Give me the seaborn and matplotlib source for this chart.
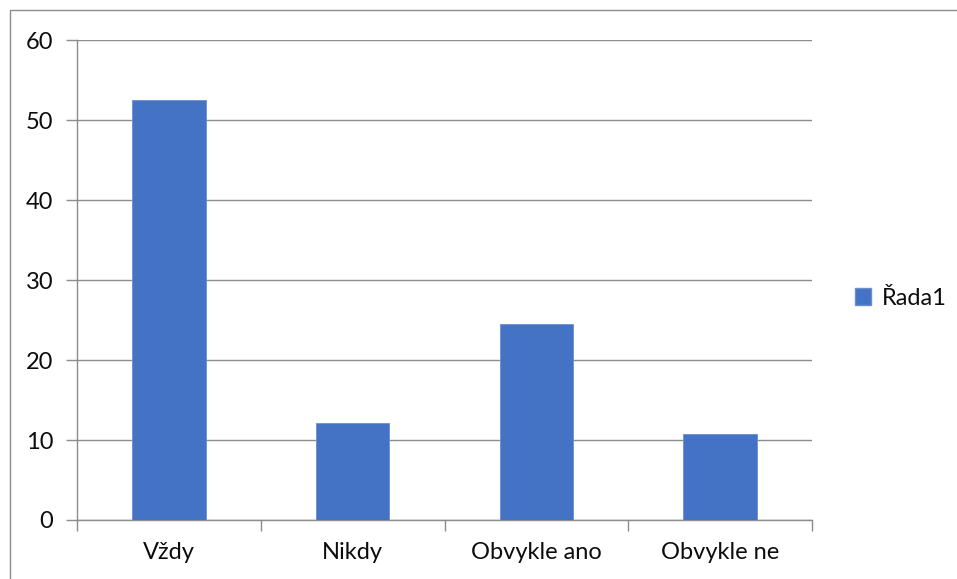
import pandas as pd
import seaborn as sns
import matplotlib.pyplot as plt
from matplotlib.patches import Rectangle, Patch

# data
categories = ["Vždy", "Nikdy", "Obvykle ano", "Obvykle ne"]
values = [52.5, 12.1, 24.5, 10.8]
series_name = "Řada1"
y_ticks = [0, 10, 20, 30, 40, 50, 60]

df = pd.DataFrame({"kat": categories, "hodnota": values})

sns.set_theme(style="white")
plt.rcParams['font.family'] = ['Lato', 'DejaVu Sans']

fig = plt.figure(figsize=(9.57, 5.79), dpi=100)
ax = fig.add_axes([0.0805, 0.1019, 0.768, 0.829])

bar_color = "#4472C4"
sns.barplot(data=df, x="kat", y="hodnota", color=bar_color, width=0.4,
            saturation=1, edgecolor="#6d8fd0", linewidth=0.6, ax=ax, zorder=3)

grid_c = "#8c8c8c"
txt_c = "#0d0d0d"
ax.set_ylim(0, 60)
ax.set_xlim(-0.5, len(categories) - 0.5)
ax.set_yticks(y_ticks)
ax.yaxis.grid(True, color=grid_c, linewidth=1)
ax.set_axisbelow(True)
ax.set_xlabel("")
ax.set_ylabel("")

for s in ["top", "right"]:
    ax.spines[s].set_visible(False)
for s in ["left", "bottom"]:
    ax.spines[s].set_color(grid_c)
    ax.spines[s].set_linewidth(1)

# boundary ticks between categories like in excel
ax.set_xticks([i - 0.5 for i in range(len(categories) + 1)], minor=True)
ax.tick_params(axis="x", which="major", length=0, pad=16, labelsize=17, labelcolor=txt_c)
ax.tick_params(axis="x", which="minor", length=8, width=1, color=grid_c, direction="out", bottom=True)
ax.tick_params(axis="y", which="major", length=8, width=1, color=grid_c, left=True,
               pad=9, labelsize=17, labelcolor=txt_c)

# legend on the right
handle = Patch(facecolor=bar_color, edgecolor="#6d8fd0", label=series_name)
fig.legend(handles=[handle], loc="center left", bbox_to_anchor=(0.871, 0.485),
           frameon=False, fontsize=17, handlelength=0.7, handleheight=0.7,
           handletextpad=0.45, labelcolor=txt_c)

# outer chart border (only top and left visible in the crop)
fig.patches.append(Rectangle((10 / 957, -0.1), 1.2, (579 - 10) / 579 + 0.1,
                             transform=fig.transFigure, fill=False,
                             edgecolor="#8c8c8c", linewidth=1))

fig.savefig("out.png", dpi=100)
